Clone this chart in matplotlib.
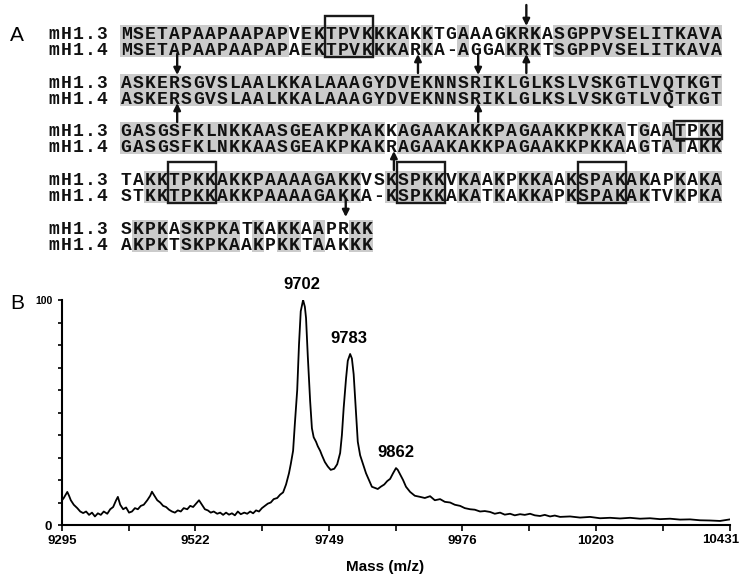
import matplotlib

matplotlib.use("Agg")

import matplotlib.pyplot as plt
from matplotlib.patches import Rectangle

# ---- panel A: alignment ----
LABELS = ["mH1.3", "mH1.4"]
SEQ_H13 = [
    "MSETAPAAPAAPAPVEKTPVKKKAKKTGAAAGKRKASGPPVSELITKAVA",
    "ASKERSGVSLAALKKALAAAGYDVEKNNSRIKLGLKSLVSKGTLVQTKGT",
    "GASGSFKLNKKAASGEAKPKAKKAGAAKAKKPAGAAKKPKKATGAATPKK",
    "TAKKTPKKAKKPAAAAGAKKVSKSPKKVKAAKPKKAAKSPAKAKAPKAKA",
    "SKPKASKPKATKAKKAAPRKK",
]
SEQ_H14 = [
    "MSETAPAAPAAPAPAEKTPVKKKARKA-AGGAKRKTSGPPVSELITKAVA",
    "ASKERSGVSLAALKKALAAAGYDVEKNNSRIKLGLKSLVSKGTLVQTKGT",
    "GASGSFKLNKKAASGEAKPKAKRAGAAKAKKPAGAAKKPKKAAGTATAKK",
    "STKKTPKKAKKPAAAAGAKKA-KSPKKAKATKAKKAPKSPAKAKTVKPKA",
    "AKPKTSKPKAAKPKKTAAKKK",
]
# boxed motifs: (block, first col, last col + 1, lines)
BOXES = [(0, 17, 21, "both"), (2, 46, 50, "top"),
         (3, 4, 8, "both"), (3, 23, 27, "both"), (3, 38, 42, "both")]
# arrows: (block, col, kind)
ARROWS = [(0, 33, "above"), (0, 24, "below_up"), (0, 33, "below_up"),
          (1, 4, "above"), (1, 29, "above"),
          (1, 4, "below_up"), (1, 29, "below_up"),
          (2, 22, "below_up"), (3, 18, "below_down")]

# ---- panel B: spectrum ----
MASS = [9295, 9298, 9304, 9307, 9310, 9315, 9321, 9326, 9331, 9336,
        9341, 9346, 9351, 9356, 9361, 9366, 9372, 9377, 9382, 9387,
        9390, 9394, 9399, 9404, 9409, 9414, 9419, 9424, 9429, 9434,
        9440, 9445, 9448, 9451, 9457, 9462, 9467, 9472, 9477, 9482,
        9487, 9492, 9497, 9502, 9508, 9513, 9518, 9523, 9528, 9533,
        9538, 9543, 9548, 9553, 9559, 9564, 9569, 9574, 9579, 9584,
        9589, 9594, 9599, 9605, 9610, 9615, 9620, 9625, 9630, 9635,
        9640, 9645, 9650, 9655, 9661, 9666, 9671, 9676, 9681, 9684,
        9688, 9691, 9695, 9698, 9701, 9705, 9708, 9710, 9713, 9717,
        9720, 9723, 9727, 9730, 9734, 9737, 9742, 9747, 9752, 9758,
        9763, 9768, 9771, 9774, 9778, 9781, 9785, 9788, 9791, 9795,
        9798, 9802, 9807, 9812, 9817, 9822, 9827, 9832, 9837, 9843,
        9848, 9853, 9858, 9863, 9866, 9870, 9875, 9880, 9887, 9895,
        9904, 9912, 9921, 9929, 9938, 9946, 9955, 9963, 9972, 9980,
        9989, 9997, 10006, 10014, 10023, 10031, 10040, 10048, 10057, 10065,
        10074, 10082, 10091, 10099, 10108, 10116, 10125, 10133, 10142, 10159,
        10176, 10193, 10210, 10227, 10244, 10261, 10278, 10295, 10312, 10329,
        10346, 10363, 10380, 10397, 10414, 10431]
INTENSITY = [11, 12, 14.7, 13, 11, 9, 7.5, 6, 5.3, 6,
             4.5, 5.5, 3.8, 5.2, 4.5, 6, 5, 7, 8, 11,
             12.5, 9, 7, 7.8, 5.5, 6, 7.5, 7, 8.5, 9,
             11, 13, 14.8, 13.5, 11, 10, 8.5, 8, 6.8, 6,
             5.5, 6.5, 6, 7.5, 7, 8.5, 8, 9.5, 11, 9,
             7, 6.5, 5.5, 6, 5, 5.5, 4.5, 5.5, 4.6, 5.2,
             4.3, 6, 4.8, 5.5, 5, 6, 5.2, 6.5, 6, 7.5,
             8.5, 9.5, 10, 11.5, 12, 13.5, 14.5, 18, 23, 27,
             33, 45, 60, 80, 95, 100, 97, 92, 75, 55,
             43, 39, 37, 35, 33, 31, 28, 26, 24.5, 25,
             27, 32, 40, 52, 65, 73, 76, 74, 67, 50,
             37, 31, 27, 23, 20, 17, 16.5, 16, 17, 18,
             19.5, 20.5, 23, 25.3, 24.5, 22.5, 20, 17, 14.7, 13,
             12.5, 12, 12.8, 11, 11.5, 10.3, 10, 9, 8.5, 7.5,
             7, 6.8, 6, 6.2, 5.8, 5, 5.5, 4.6, 5, 4.3,
             4.8, 4.5, 5, 4.3, 4, 4.5, 3.8, 4.2, 3.6, 3.8,
             3.3, 3.6, 3, 3.2, 2.9, 3.2, 2.8, 3, 2.6, 2.8,
             2.4, 2.5, 2.1, 2.0, 1.8, 2.5]
PEAKS = [9702, 9783, 9862]
PEAK_LEVELS = [100, 76, 25.3]
TICK_MASS = [9295, 9522, 9749, 9976, 10203, 10431]

W, H = 748, 574
CELL = 12.04
X_SEQ = 120
X_LABEL = X_SEQ - 6 * CELL
ROW_Y = [(33, 49), (82, 98), (130, 146), (179, 195), (228, 244)]
SHADE = "#cbcbcb"
MONO = dict(family="Liberation Mono", weight="bold", fontsize=13, color="#111111")
SANS = "Liberation Sans"

fig = plt.figure(figsize=(W / 100, H / 100), dpi=100)
ax = fig.add_axes([0, 0, 1, 1])
ax.set_xlim(0, W)
ax.set_ylim(H, 0)
ax.axis("off")


def col_x(c):
    return X_SEQ + CELL * c


for (y1, y2), s1, s2 in zip(ROW_Y, SEQ_H13, SEQ_H14):
    # grey cells where both residues are identical
    for c, (a, b) in enumerate(zip(s1, s2)):
        if a == b and a != "-":
            ax.add_patch(Rectangle((col_x(c), y1 - 8), CELL, (y2 - y1) + 16,
                                   facecolor=SHADE, edgecolor="none", zorder=1))
    for y, lab, seq in [(y1, LABELS[0], s1), (y2, LABELS[1], s2)]:
        for k, ch in enumerate(lab):
            ax.text(X_LABEL + CELL * (k + 0.5), y + 6, ch, ha="center",
                    va="baseline", zorder=3, **MONO)
        for c, ch in enumerate(seq):
            ax.text(col_x(c) + CELL / 2, y + 6, ch, ha="center",
                    va="baseline", zorder=3, **MONO)

for blk, c0, c1, lines in BOXES:
    y1, y2 = ROW_Y[blk]
    top, bot = (y1 - 9, y1 + 9) if lines == "top" else (y1 - 17, y2 + 8)
    ax.add_patch(Rectangle((col_x(c0), top), CELL * (c1 - c0), bot - top,
                           facecolor="none", edgecolor="#1a1a1a", lw=1.7, zorder=4))

for blk, c, kind in ARROWS:
    y1, y2 = ROW_Y[blk]
    x = col_x(c) + CELL / 2 + 3
    if kind == "above":
        tail, head = y1 - 28, y1 - 7
    elif kind == "below_up":
        tail, head = y2 + 24, y2 + 5
    else:
        tail, head = y2 + 4, y2 + 22
    ax.annotate("", xy=(x, head), xytext=(x, tail),
                arrowprops=dict(arrowstyle="-|>", lw=1.7, color="#111111",
                                mutation_scale=10, shrinkA=0, shrinkB=0),
                zorder=5)

ax.text(10, 41, "A", family=SANS, fontsize=15, va="baseline")
ax.text(10, 309, "B", family=SANS, fontsize=15, va="baseline")

# ---- panel B ----
axb = fig.add_axes([62 / W, (H - 525) / H, 668 / W, 225 / H])
axb.patch.set_alpha(0)
axb.plot(MASS, INTENSITY, color="black", lw=1.3)
axb.set_xlim(TICK_MASS[0], TICK_MASS[-1])
axb.set_ylim(0, 100)
for side in ["top", "right"]:
    axb.spines[side].set_visible(False)
for side in ["left", "bottom"]:
    axb.spines[side].set_linewidth(1.5)

axb.set_xticks(TICK_MASS)
axb.set_xticks([(a + b) / 2 for a, b in zip(TICK_MASS[:-1], TICK_MASS[1:])], minor=True)
axb.set_xticklabels([str(m) for m in TICK_MASS[:-1]] + [""],
                    fontsize=9.5, fontweight="bold", family=SANS)
axb.tick_params(axis="x", which="both", direction="out", length=4, width=1.2, pad=3)
axb.annotate(str(TICK_MASS[-1]), xy=(TICK_MASS[-1], 0), xytext=(-6.5, -10.5),
             textcoords="offset points", ha="center", va="center",
             fontsize=9.5, fontweight="bold", family=SANS,
             annotation_clip=False)

axb.set_yticks(range(0, 101, 10))
axb.set_yticklabels(["0"] + [""] * 9 + ["100"], fontweight="bold", family=SANS)
ylabs = axb.get_yticklabels()
ylabs[0].set_fontsize(9.5)
ylabs[-1].set_fontsize(7.5)
axb.tick_params(axis="y", direction="out", length=3, width=1.2, pad=4)

axb.set_xlabel("Mass (m/z)", fontsize=11, fontweight="bold", family=SANS)
axb.xaxis.set_label_coords((385 - 62) / 668, -(560 - 525) / 225)

for m, lvl in zip(PEAKS, PEAK_LEVELS):
    axb.annotate(str(m), xy=(m, lvl), xytext=(0, 6), textcoords="offset points",
                 ha="center", va="bottom", fontsize=12, fontweight="bold",
                 family=SANS, annotation_clip=False)

fig.savefig("out.png", dpi=100)
